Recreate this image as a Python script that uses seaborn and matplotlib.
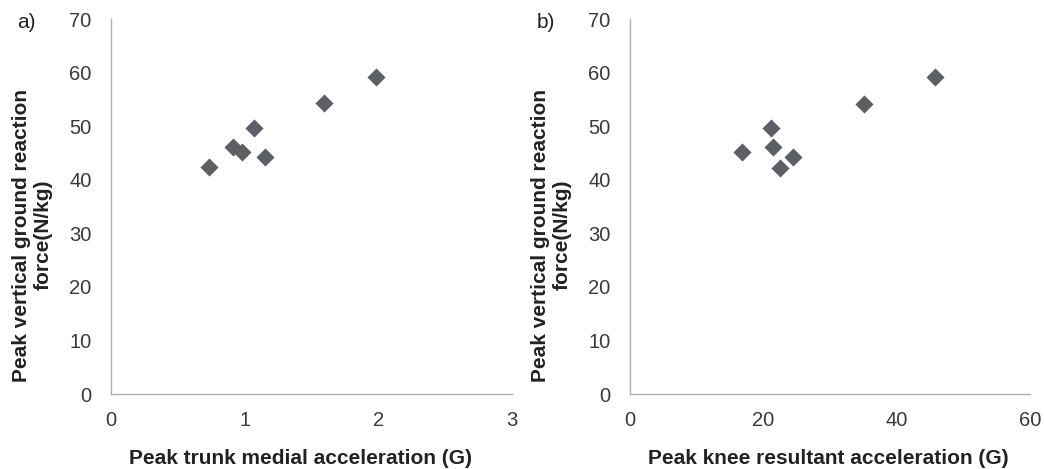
import matplotlib
matplotlib.use("Agg")
import matplotlib.pyplot as plt
import seaborn as sns
import pandas as pd

# Data
grf = [42.3, 46.2, 45.2, 49.7, 44.3, 54.4, 59.2]          # Peak vertical GRF (N/kg)
trunk_medial = [0.735, 0.91, 0.977, 1.07, 1.154, 1.595, 1.982]   # G
grf_b = [45.1, 49.6, 46.1, 42.2, 44.2, 54.2, 59.1]
knee_resultant = [16.75, 21.15, 21.4, 22.5, 24.5, 35.05, 45.8]   # G

y_ticks = [0, 10, 20, 30, 40, 50, 60, 70]
xa_ticks = [0, 1, 2, 3]
xb_ticks = [0, 20, 40, 60]

sns.set_theme(style="white")
plt.rcParams['font.family'] = ['Liberation Sans', 'DejaVu Sans']

fig = plt.figure(figsize=(10.44, 4.69), dpi=100)
ax1 = fig.add_axes([111/1044, 1-394/469, (512-111)/1044, (394-19)/469])
ax2 = fig.add_axes([630/1044, 1-394/469, (1030-630)/1044, (394-19)/469])

df_a = pd.DataFrame({"x": trunk_medial, "y": grf})
df_b = pd.DataFrame({"x": knee_resultant, "y": grf_b})

mcol = "#5e5f64"
for ax, df, xt, xlab, xlab_x, panel in [
    (ax1, df_a, xa_ticks, "Peak trunk medial acceleration (G)", 0.4726, "a)"),
    (ax2, df_b, xb_ticks, "Peak knee resultant acceleration (G)", 0.495, "b)"),
]:
    sns.scatterplot(data=df, x="x", y="y", ax=ax, marker="D", s=85,
                    color=mcol, edgecolor=mcol, linewidth=0)
    ax.set_xlim(xt[0], xt[-1])
    ax.set_ylim(y_ticks[0], y_ticks[-1])
    ax.set_xticks(xt)
    ax.set_yticks(y_ticks)
    for s in ["top", "right"]:
        ax.spines[s].set_visible(False)
    for s in ["left", "bottom"]:
        ax.spines[s].set_color("#b0b0b0")
        ax.spines[s].set_linewidth(1.0)
    ax.tick_params(axis="both", direction="out", length=6, width=1,
                   color="#b0b0b0", labelsize=14.5, labelcolor="#3a3a3a")
    ax.tick_params(axis="y", pad=8)
    ax.tick_params(axis="x", pad=6)
    ax.set_xlabel(xlab, fontsize=15, fontweight="bold", color="#222222")
    ax.xaxis.set_label_coords(xlab_x, -0.171)
    ax.xaxis.label.set_verticalalignment("center")
    ax.set_ylabel("Peak vertical ground reaction\nforce(N/kg)", fontsize=15,
                  fontweight="bold", color="#222222", linespacing=1.2)
    ax.yaxis.set_label_coords(-0.197, 0.424)
    ax.yaxis.label.set_verticalalignment("center")
    ax.text(-0.234, 0.99, panel, transform=ax.transAxes, fontsize=15,
            color="#222222", va="center", ha="left")

fig.savefig("out.png", dpi=100, facecolor="white")
